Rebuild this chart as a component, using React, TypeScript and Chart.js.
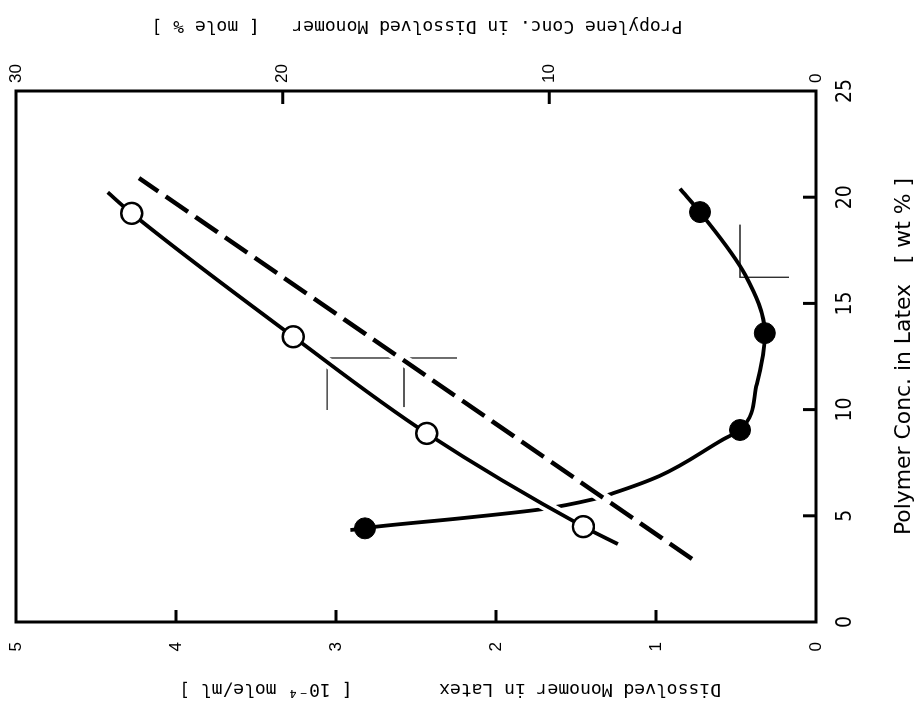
import React, { useEffect, useRef } from "react";
import { Chart, registerables } from "chart.js";

Chart.register(...registerables);

// Polymer concentration in latex [wt %] vs dissolved monomer [1e-4 mole/ml]
const openPolymer = [4.49, 8.88, 13.43, 19.24];
const openMonomer = [1.454, 2.433, 3.267, 4.277];
const filledPolymer = [4.41, 9.04, 13.6, 19.3];
const filledMonomer = [2.819, 0.475, 0.32, 0.725];

// Drawn curve through the open symbols
const openCurvePolymer = [3.67, 4.49, 8.88, 13.43, 19.24, 20.23];
const openCurveMonomer = [1.238, 1.454, 2.433, 3.267, 4.277, 4.427];

// Dashed reference line
const dashedPolymer = [2.97, 20.9];
const dashedMonomer = [0.775, 4.231];

// Drawn curve through the filled symbols
const filledCurvePolymer = [4.33, 4.41, 4.49, 4.88, 5.31, 5.78, 6.06, 6.87, 8.6, 9.04, 11.2, 13.6, 16.34, 19.3, 20.4];
const filledCurveMonomer = [2.91, 2.819, 2.746, 2.225, 1.715, 1.392, 1.269, 0.98, 0.58, 0.475, 0.37, 0.32, 0.442, 0.725, 0.85];

// Thin guide lines
const guideAPolymer = [9.98, 12.43, 12.43];
const guideAMonomer = [3.056, 3.056, 2.244];
const guideBPolymer = [10.12, 12.43];
const guideBMonomer = [2.575, 2.575];
const guideCPolymer = [18.71, 16.23, 16.23];
const guideCMonomer = [0.475, 0.475, 0.169];

// Axis ranges and tick steps
const polymerRange = [0, 25];
const polymerStep = 5;
const monomerRange = [0, 5];
const monomerStep = 1;
const propyleneRange = [0, 30];
const propyleneStep = 10;

const polymerTitle = "Polymer Conc. in Latex   [ wt % ]";
const monomerTitle = "Dissolved Monomer in Latex        [ 10\u207B\u2074 mole/ml ]";
const propyleneTitle = "Propylene Conc. in Dissolved Monomer   [ mole % ]";

const MONO = '"DejaVu Sans Mono", "Liberation Mono", monospace';
const NARROW = '"Liberation Sans Narrow", "DejaVu Sans Condensed", "Liberation Sans", sans-serif';
const PLAIN = '"Liberation Sans", Arial, sans-serif';

const pts = (xs: number[], ys: number[]) => xs.map((x, i) => ({ x, y: ys[i] }));

const innerTicks = (scale: any) => {
  const vals = scale.ticks.map((t: any) => t.value);
  return vals.filter((v: number) => v > scale.min && v < scale.max);
};

// fixed axis band sizes, no extra label overhang
const fixBand = (size: number) => (s: any) => {
  if (s.isHorizontal()) s.height = size;
  else s.width = size;
  s.paddingTop = 0;
  s.paddingBottom = 0;
  s.paddingLeft = 0;
  s.paddingRight = 0;
};

const frameTicksTitles = {
  id: "frameTicksTitles",
  afterDraw(chart: any) {
    const { ctx, chartArea: a, scales } = chart;
    ctx.save();
    ctx.strokeStyle = "#000";
    ctx.lineWidth = 3;
    ctx.strokeRect(a.left, a.top, a.right - a.left, a.bottom - a.top);

    // inward tick marks
    ctx.beginPath();
    for (const v of innerTicks(scales.x)) {
      const px = scales.x.getPixelForValue(v);
      ctx.moveTo(px, a.bottom);
      ctx.lineTo(px, a.bottom - 13);
    }
    for (const v of innerTicks(scales.y)) {
      const py = scales.y.getPixelForValue(v);
      ctx.moveTo(a.left, py);
      ctx.lineTo(a.left + 12, py);
    }
    for (const v of innerTicks(scales.y2)) {
      const py = scales.y2.getPixelForValue(v);
      ctx.moveTo(a.right, py);
      ctx.lineTo(a.right - 13, py);
    }
    ctx.stroke();

    ctx.fillStyle = "#000";
    ctx.textAlign = "center";
    ctx.textBaseline = "middle";

    // bottom title, squeezed to its printed width
    const cx = (a.left + a.right) / 2;
    ctx.font = `22px ${NARROW}`;
    const w = ctx.measureText(polymerTitle).width;
    const target = 357;
    ctx.save();
    ctx.translate(cx, a.bottom + 88);
    ctx.scale(target / w, 1);
    ctx.fillText(polymerTitle, 0, 0);
    ctx.restore();

    // left and right titles, read bottom to top
    ctx.font = `18px ${MONO}`;
    ctx.save();
    ctx.translate(a.left - 67, 450);
    ctx.rotate(-Math.PI / 2);
    ctx.fillText(monomerTitle, 0, 0);
    ctx.restore();

    ctx.save();
    ctx.translate(a.right + 65, 417);
    ctx.rotate(-Math.PI / 2);
    ctx.fillText(propyleneTitle, 0, 0);
    ctx.restore();

    ctx.restore();
  },
};

export default function App() {
  const ref = useRef<HTMLCanvasElement>(null);

  useEffect(() => {
    if (!ref.current) return;
    const lineBase = {
      showLine: true,
      pointRadius: 0,
      pointHoverRadius: 0,
      fill: false,
      borderCapStyle: "butt" as const,
    };
    const chart = new Chart(ref.current, {
      type: "scatter",
      data: {
        datasets: [
          {
            label: "open",
            data: pts(openPolymer, openMonomer),
            showLine: false,
            pointRadius: 10.5,
            pointHoverRadius: 10.5,
            pointBorderWidth: 2.4,
            pointBackgroundColor: "#fff",
            pointBorderColor: "#000",
            order: 0,
          },
          {
            label: "filled",
            data: pts(filledPolymer, filledMonomer),
            showLine: false,
            pointRadius: 10.5,
            pointHoverRadius: 10.5,
            pointBorderWidth: 1,
            pointBackgroundColor: "#000",
            pointBorderColor: "#000",
            order: 1,
          },
          {
            ...lineBase,
            label: "open curve",
            data: pts(openCurvePolymer, openCurveMonomer),
            borderColor: "#000",
            borderWidth: 3.8,
            cubicInterpolationMode: "monotone",
            order: 2,
          },
          {
            ...lineBase,
            label: "dashed",
            data: pts(dashedPolymer, dashedMonomer),
            borderColor: "#000",
            borderWidth: 4.5,
            borderDash: [27, 9],
            order: 3,
          },
          {
            ...lineBase,
            label: "open curve halo",
            data: pts(openCurvePolymer, openCurveMonomer),
            borderColor: "#fff",
            borderWidth: 11,
            cubicInterpolationMode: "monotone",
            order: 4,
          },
          {
            ...lineBase,
            label: "dashed halo",
            data: pts(dashedPolymer, dashedMonomer),
            borderColor: "#fff",
            borderWidth: 12,
            order: 5,
          },
          {
            ...lineBase,
            label: "filled curve",
            data: pts(filledCurvePolymer, filledCurveMonomer),
            borderColor: "#000",
            borderWidth: 3.8,
            cubicInterpolationMode: "monotone",
            order: 6,
          },
          {
            ...lineBase,
            label: "guide A",
            data: pts(guideAPolymer, guideAMonomer),
            borderColor: "#222",
            borderWidth: 1.3,
            order: 7,
          },
          {
            ...lineBase,
            label: "guide B",
            data: pts(guideBPolymer, guideBMonomer),
            borderColor: "#222",
            borderWidth: 1.3,
            order: 7,
          },
          {
            ...lineBase,
            label: "guide C",
            data: pts(guideCPolymer, guideCMonomer),
            borderColor: "#222",
            borderWidth: 1.3,
            order: 7,
          },
        ],
      },
      options: {
        animation: false,
        responsive: false,
        devicePixelRatio: 1,
        layout: { padding: { top: 16, left: 0, right: 0, bottom: 0 } },
        plugins: { legend: { display: false }, tooltip: { enabled: false } },
        scales: {
          x: {
            type: "linear",
            position: "bottom",
            min: polymerRange[0],
            max: polymerRange[1],
            afterFit: fixBand(101),
            grid: { display: false, drawTicks: false },
            border: { display: false },
            ticks: {
              stepSize: polymerStep,
              color: "#000",
              padding: 17,
              autoSkip: false,
              maxRotation: 0,
              font: { family: NARROW, size: 21 },
            },
          },
          y: {
            type: "linear",
            position: "left",
            min: monomerRange[0],
            max: monomerRange[1],
            afterFit: fixBand(97),
            grid: { display: false, drawTicks: false },
            border: { display: false },
            ticks: {
              stepSize: monomerStep,
              color: "#000",
              padding: 20,
              font: { family: PLAIN, size: 17 },
            },
          },
          y2: {
            type: "linear",
            position: "right",
            min: propyleneRange[0],
            max: propyleneRange[1],
            afterFit: fixBand(91),
            grid: { display: false, drawTicks: false },
            border: { display: false },
            ticks: {
              stepSize: propyleneStep,
              color: "#000",
              padding: 8,
              font: { family: PLAIN, size: 17 },
            },
          },
        },
      },
      plugins: [frameTicksTitles],
    } as any);
    return () => chart.destroy();
  }, []);

  return (
    <div
      style={{
        position: "fixed",
        left: 0,
        top: 0,
        width: 917,
        height: 719,
        overflow: "hidden",
        background: "#fff",
      }}
    >
      <div
        style={{
          position: "absolute",
          left: 99,
          top: -99,
          width: 719,
          height: 917,
          transform: "rotate(-90deg)",
        }}
      >
        <canvas ref={ref} width={719} height={917} style={{ display: "block", width: 719, height: 917 }} />
      </div>
    </div>
  );
}
